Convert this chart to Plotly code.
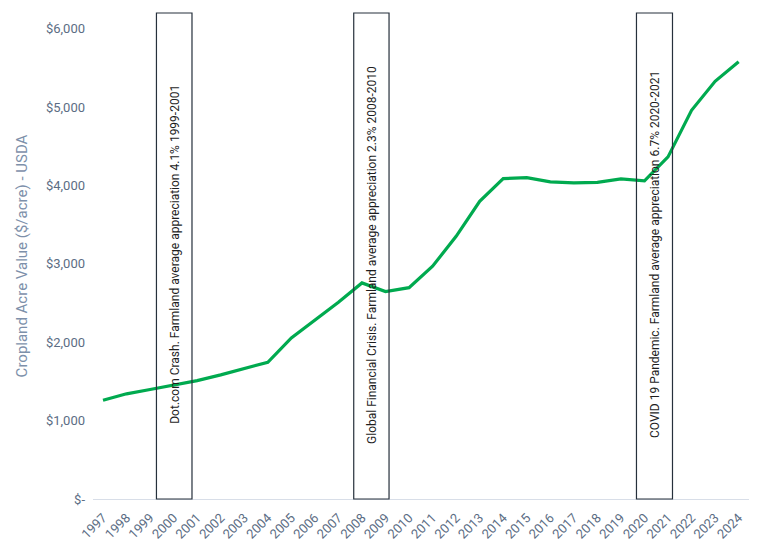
import plotly.graph_objects as go

years = list(range(1997, 2025))
values = [1260, 1342, 1397, 1452, 1511, 1584, 1660, 1745, 2056, 2281, 2510, 2757, 2647, 2696,
          2970, 3352, 3799, 4088, 4101, 4046, 4033, 4041, 4084, 4059, 4365, 4959, 5329, 5580]

event_labels = [
    "Dot.com Crash. Farmland average appreciation 4.1% 1999-2001",
    "Global Financial Crisis. Farmland average appreciation 2.3% 2008-2010",
    "COVID 19 Pandemic. Farmland average appreciation 6.7% 2020-2021",
]
event_start = [1999.27, 2007.65, 2019.66]
event_end = [2000.78, 2009.15, 2021.19]

y_tickvals = [0, 1000, 2000, 3000, 4000, 5000, 6000]
y_ticktext = ["$-", "$1,000", "$2,000", "$3,000", "$4,000", "$5,000", "$6,000"]

fig = go.Figure()
fig.add_trace(go.Scatter(
    x=years, y=values, mode="lines",
    line=dict(color="#00AA4F", width=3.2),
    showlegend=False, hoverinfo="skip",
))

for lbl, x0, x1 in zip(event_labels, event_start, event_end):
    fig.add_shape(type="rect", xref="x", yref="paper", x0=x0, x1=x1, y0=0, y1=1,
                  line=dict(color="#26303c", width=1.2), fillcolor="rgba(0,0,0,0)", layer="above")
    fig.add_annotation(x=(x0 + x1) / 2, y=0.503, xref="x", yref="paper", text=lbl,
                       textangle=-90, showarrow=False, xanchor="center", yanchor="middle",
                       font=dict(family="Roboto", size=12, color="#1e1e1e"))

# page body has an 8px default margin, so the figure is sized to fit the window
fig.update_layout(
    width=757, height=541,
    margin=dict(l=85, r=16, t=5, b=50),
    paper_bgcolor="white", plot_bgcolor="white",
    font=dict(family="Roboto", color="#5c6d84"),
    xaxis=dict(
        range=[1996.575, 2024.44],
        tickvals=years, ticktext=[str(y) for y in years],
        tickangle=-45, tickfont=dict(size=13, color="#5c6d84"),
        showgrid=False, zeroline=False,
        showline=True, linecolor="#d8dee8", linewidth=1.2,
        ticks="", fixedrange=True, automargin=False, ticklabelstandoff=5,
    ),
    yaxis=dict(
        range=[0, 6201],
        tickvals=y_tickvals, ticktext=y_ticktext,
        tickfont=dict(size=13, color="#5c6d84"),
        showgrid=False, zeroline=False, showline=False,
        ticks="", ticklabelstandoff=7, automargin=False,
        title=dict(text="Cropland Acre Value ($/acre) - USDA",
                   font=dict(size=15, color="#7d90aa"), standoff=14),
    ),
)

fig.write_html("out.html")
